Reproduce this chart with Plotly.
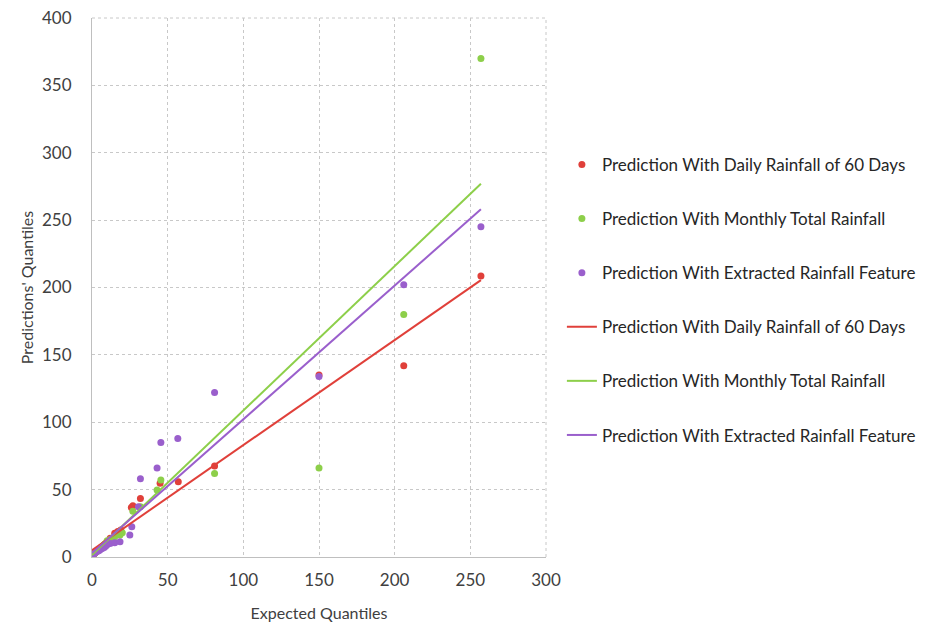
import plotly.graph_objects as go

# Expected quantiles (x) and predictions' quantiles (y) for each series
red_x = [0.5, 1, 2, 3, 4, 5, 6, 7, 8, 9, 10, 12, 15, 17, 19, 26, 27, 32, 45, 57, 81, 150, 206, 257]
red_y = [0.5, 1.5, 3, 4, 5, 6, 7, 8, 9, 10, 11, 14, 17.6, 19, 20, 36.8, 38, 43.5, 54.7, 55.9, 67.5, 135, 142, 208.5]

green_x = [0.5, 1, 2, 3, 4, 5, 6, 7, 8, 9, 10, 12, 15, 18.5, 20, 27, 32, 43, 45.5, 81, 150, 206, 257]
green_y = [1, 2, 3, 4, 5, 6, 7, 8, 9, 10, 12, 13, 15, 16.3, 18, 34, 37.3, 49.7, 57.1, 62, 66, 180, 370]

purple_x = [0.5, 1, 2, 3, 4, 5, 6, 7, 8, 9, 10, 12, 15, 18.5, 25, 26.3, 30.7, 32, 43, 45.5, 56.7, 81, 150, 206, 257]
purple_y = [1, 2, 3, 4, 4.5, 5, 6, 6.5, 7, 8, 9, 10, 10.6, 11.4, 16.3, 22.5, 37.3, 58, 66, 85, 88, 122, 134, 202, 245]

# Linear trend lines (endpoints)
trend_x = [0, 257]
red_trend = [5, 205.5]
green_trend = [1.5, 277]
purple_trend = [3, 258]

names = ["Prediction With Daily Rainfall of 60 Days",
         "Prediction With Monthly Total Rainfall",
         "Prediction With Extracted Rainfall Feature"]
colors = ["#E0403A", "#8DCF4A", "#9A5FCC"]

x_ticks = [0, 50, 100, 150, 200, 250, 300]
y_ticks = [0, 50, 100, 150, 200, 250, 300, 350, 400]

fig = go.Figure()
for i, (xs, ys) in enumerate([(red_x, red_y), (green_x, green_y), (purple_x, purple_y)]):
    fig.add_trace(go.Scatter(x=xs, y=ys, mode="markers", name=names[i],
                             legendgroup=f"m{i}",
                             marker=dict(color=colors[i], size=7)))
for i, ys in enumerate([red_trend, green_trend, purple_trend]):
    fig.add_trace(go.Scatter(x=trend_x, y=ys, mode="lines", name=names[i],
                             legendgroup=f"l{i}",
                             line=dict(color=colors[i], width=2)))

grid_color = "#C8C8C8"
axis_common = dict(showline=True, linecolor="#BFBFBF", linewidth=1,
                   showgrid=True, gridcolor=grid_color, griddash="dot", gridwidth=1,
                   zeroline=False, ticks="", automargin=False,
                   ticklabeloverflow="allow",
                   tickfont=dict(size=17, color="#404040"),
                   title_font=dict(size=16, color="#404040"))

fig.update_xaxes(range=[0, 300], tickvals=x_ticks, title_text="Expected Quantiles",
                 title_standoff=18, ticklabelstandoff=8, **axis_common)
fig.update_yaxes(range=[0, 400], tickvals=y_ticks, title_text="Predictions' Quantiles",
                 title_standoff=4, ticklabelstandoff=16, **axis_common)

# dotted border gridlines on the top and right edges of the plot area
fig.add_shape(type="line", xref="paper", yref="paper", x0=0, x1=1, y0=1, y1=1,
              line=dict(color=grid_color, width=1, dash="dot"), layer="below")
fig.add_shape(type="line", xref="paper", yref="paper", x0=1, x1=1, y0=0, y1=1,
              line=dict(color=grid_color, width=1, dash="dot"), layer="below")

fig.update_layout(
    width=933, height=630,
    margin=dict(l=84, r=395, t=10, b=81, autoexpand=False),
    paper_bgcolor="white", plot_bgcolor="white",
    font=dict(family="Lato", size=17, color="#262626"),
    legend=dict(x=1.035, y=0.477, xanchor="left", yanchor="middle",
                traceorder="grouped", tracegroupgap=29,
                itemwidth=30, font=dict(size=17, color="#262626")),
)

fig.write_html("out.html")
